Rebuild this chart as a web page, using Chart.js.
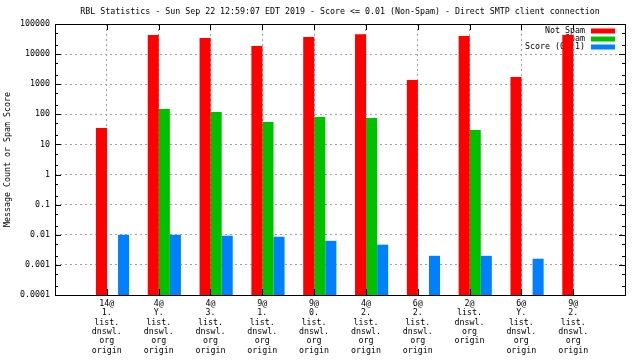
<!DOCTYPE html>
<html>
<head>
<meta charset="utf-8">
<title>RBL Statistics</title>
<script src="https://cdn.jsdelivr.net/npm/chart.js@4/dist/chart.umd.min.js"></script>
<style>
    html, body { margin: 0; padding: 0; background: #ffffff; }
</style>
</head>
<body>
<canvas id="rblChart" width="640" height="360"></canvas>
<script>
var titleText = "RBL Statistics - Sun Sep 22 12:59:07 EDT 2019 - Score <= 0.01 (Non-Spam) - Direct SMTP client connection";
var yAxisTitle = "Message Count or Spam Score";

var categories = [
    ["14@", "1.", "list.", "dnswl.", "org", "origin"],
    ["4@", "Y.", "list.", "dnswl.", "org", "origin"],
    ["4@", "3.", "list.", "dnswl.", "org", "origin"],
    ["9@", "1.", "list.", "dnswl.", "org", "origin"],
    ["9@", "0.", "list.", "dnswl.", "org", "origin"],
    ["4@", "2.", "list.", "dnswl.", "org", "origin"],
    ["6@", "2.", "list.", "dnswl.", "org", "origin"],
    ["2@", "list.", "dnswl.", "org", "origin"],
    ["6@", "Y.", "list.", "dnswl.", "org", "origin"],
    ["9@", "2.", "list.", "dnswl.", "org", "origin"]
];

var seriesNames = ["Not Spam", "Spam", "Score (0..1)"];
var notSpam = [35, 43000, 34000, 18600, 37000, 46000, 1380, 40000, 1740, 43000];
var spam = [null, 150, 120, 56, 82, 76, null, 30, null, null];
var score = [0.01, 0.01, 0.0093, 0.0086, 0.0063, 0.0047, 0.002, 0.002, 0.0016, null];

var yTicks = [0.0001, 0.001, 0.01, 0.1, 1, 10, 100, 1000, 10000, 100000];
var yTickLabels = ["0.0001", "0.001", "0.01", "0.1", "1", "10", "100", "1000", "10000", "100000"];
var minorSteps = [2, 5];

var colors = ["#ff0000", "#00c000", "#0080ff"];

var FONT_FAMILY = "'DejaVu Sans Mono', 'Liberation Mono', monospace";
var FONT_SIZE = 8.3;

function toPoints(values) {
    return values.map(function (v, i) {
        return { x: i, y: v };
    });
}

// gnuplot-like frame: box border, inward ticks, legend under the bars, centred title
var frame = {
    id: "frame",
    beforeDatasetsDraw: function (chart) {
        var ctx = chart.ctx;
        var ca = chart.chartArea;
        ctx.save();
        ctx.font = FONT_SIZE + "px " + FONT_FAMILY;
        ctx.textBaseline = "middle";
        ctx.textAlign = "right";
        chart.data.datasets.forEach(function (ds, i) {
            var y = ca.top + 7 + i * 8;
            ctx.fillStyle = "#000";
            ctx.fillText(ds.label, ca.right - 40, y);
            ctx.fillStyle = ds.backgroundColor;
            ctx.fillRect(ca.right - 34, y - 2.5, 24, 5);
        });
        ctx.restore();
    },
    afterDraw: function (chart) {
        var ctx = chart.ctx;
        var ca = chart.chartArea;
        var y = chart.scales.y;
        var x = chart.scales.x;
        ctx.save();
        ctx.strokeStyle = "#000";
        ctx.lineWidth = 1;
        ctx.beginPath();
        yTicks.forEach(function (v, k) {
            var py = Math.round(y.getPixelForValue(v)) + 0.5;
            ctx.moveTo(ca.left, py); ctx.lineTo(ca.left + 6, py);
            ctx.moveTo(ca.right, py); ctx.lineTo(ca.right - 6, py);
            if (k < yTicks.length - 1) {
                minorSteps.forEach(function (m) {
                    var pm = Math.round(y.getPixelForValue(v * m)) + 0.5;
                    ctx.moveTo(ca.left, pm); ctx.lineTo(ca.left + 3, pm);
                    ctx.moveTo(ca.right, pm); ctx.lineTo(ca.right - 3, pm);
                });
            }
        });
        categories.forEach(function (c, i) {
            var px = Math.round(x.getPixelForValue(i)) + 0.5;
            ctx.moveTo(px, ca.bottom); ctx.lineTo(px, ca.bottom - 6);
            ctx.moveTo(px, ca.top); ctx.lineTo(px, ca.top + 6);
        });
        ctx.stroke();
        ctx.strokeRect(Math.round(ca.left) + 0.5, Math.round(ca.top) + 0.5,
            Math.round(ca.right - ca.left), Math.round(ca.bottom - ca.top));

        ctx.fillStyle = "#000";
        ctx.font = FONT_SIZE + "px " + FONT_FAMILY;
        ctx.textAlign = "center";
        ctx.textBaseline = "middle";
        ctx.fillText(titleText, (ca.left + ca.right) / 2, 12);
        ctx.restore();
    }
};

var dashedBorder = { display: false, dash: [2, 3] };

var ctx = document.getElementById("rblChart").getContext("2d");
var rblChart = new Chart(ctx, {
    type: "bar",
    data: {
        datasets: [
            { label: seriesNames[0], data: toPoints(notSpam), backgroundColor: colors[0], xAxisID: "xb" },
            { label: seriesNames[1], data: toPoints(spam), backgroundColor: colors[1], xAxisID: "xb" },
            { label: seriesNames[2], data: toPoints(score), backgroundColor: colors[2], xAxisID: "xb" }
        ]
    },
    options: {
        responsive: false,
        animation: false,
        devicePixelRatio: 1,
        layout: { padding: { top: 24, right: 15, left: 0, bottom: 0 } },
        datasets: {
            bar: { categoryPercentage: 0.64, barPercentage: 1, borderWidth: 0, grouped: true }
        },
        scales: {
            x: {
                type: "linear",
                position: "bottom",
                offset: false,
                min: -1,
                max: 10,
                grid: { color: "#a0a0a0", lineWidth: 1, drawTicks: false, offset: false },
                border: dashedBorder,
                afterFit: function (scale) { scale.height = 65; },
                ticks: {
                    stepSize: 1,
                    autoSkip: false,
                    maxRotation: 0,
                    padding: 4,
                    color: "#000",
                    font: { family: FONT_FAMILY, size: FONT_SIZE, lineHeight: 1.13 },
                    callback: function (value) {
                        return categories[value] || "";
                    }
                }
            },
            xb: {
                type: "linear",
                position: "bottom",
                display: false,
                offset: false,
                grid: { offset: false },
                min: -1.11,
                max: 9.89
            },
            y: {
                type: "logarithmic",
                min: 0.0001,
                max: 100000,
                grid: { color: "#a0a0a0", lineWidth: 1, drawTicks: false },
                border: dashedBorder,
                afterBuildTicks: function (scale) {
                    scale.ticks = yTicks.map(function (v) { return { value: v }; });
                },
                afterFit: function (scale) { scale.width = 55; },
                ticks: {
                    padding: 5,
                    color: "#000",
                    font: { family: FONT_FAMILY, size: FONT_SIZE },
                    callback: function (value, index) {
                        return yTickLabels[index];
                    }
                },
                title: {
                    display: true,
                    text: yAxisTitle,
                    color: "#000",
                    padding: { top: 3, bottom: 0 },
                    font: { family: FONT_FAMILY, size: FONT_SIZE }
                }
            }
        },
        plugins: {
            legend: { display: false },
            title: { display: false },
            tooltip: { enabled: false }
        }
    },
    plugins: [frame]
});
</script>
</body>
</html>
